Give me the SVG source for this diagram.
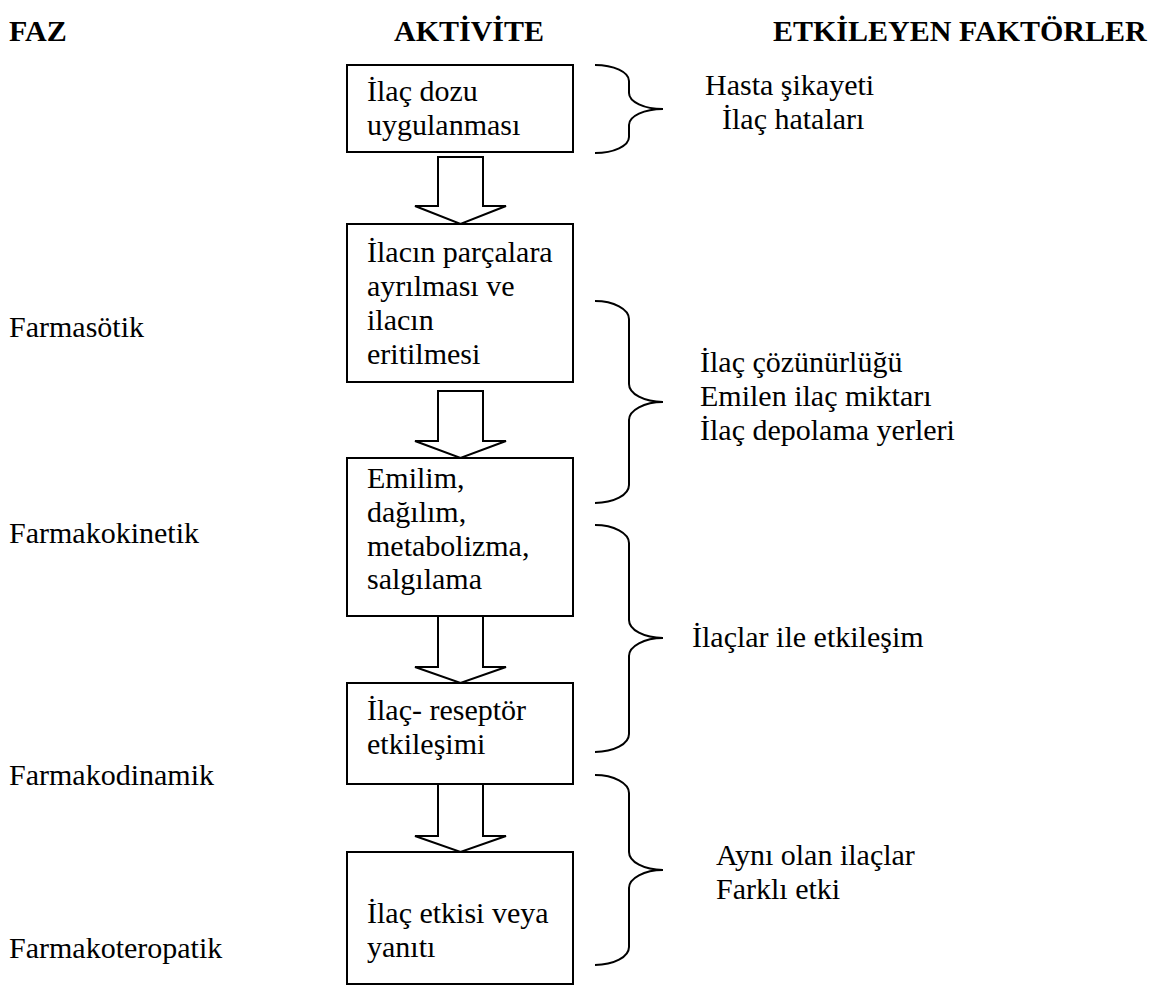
<svg xmlns="http://www.w3.org/2000/svg" width="1159" height="986" viewBox="0 0 1159 986">
<style>
text{font-family:"Liberation Serif","Times New Roman",serif;font-size:30px;fill:#000}
.h{font-weight:bold}
.box{fill:#fff;stroke:#000;stroke-width:2}
.arr{fill:#fff;stroke:#000;stroke-width:2;stroke-linejoin:miter}
.br{fill:none;stroke:#000;stroke-width:2}
</style>
<rect width="1159" height="986" fill="#fff"/>
<g id="headers">
<text class="h" x="9" y="41">FAZ</text>
<text class="h" x="394" y="41">AKTİVİTE</text>
<text class="h" x="773" y="41">ETKİLEYEN FAKTÖRLER</text>
</g>
<g id="phases">
<text x="9" y="337">Farmasötik</text>
<text x="9" y="543">Farmakokinetik</text>
<text x="9" y="785">Farmakodinamik</text>
<text x="9" y="958">Farmakoteropatik</text>
</g>
<g id="connectors">
<polygon class="arr" points="438,157 483,157 483,206 506,206 460.5,224 415,206 438,206"/>
<polygon class="arr" points="438,391 483,391 483,441 506,441 460.5,458 415,441 438,441"/>
<polygon class="arr" points="438,616 483,616 483,667 506,667 460.5,683 415,667 438,667"/>
<polygon class="arr" points="438,784 483,784 483,836 506,836 460.5,852 415,836 438,836"/>
</g>
<g id="node1">
<rect class="box" x="347" y="65" width="226" height="87"/>
<text x="367" y="101">İlaç dozu</text>
<text x="367" y="135">uygulanması</text>
</g>
<g id="node2">
<rect class="box" x="347" y="224" width="226" height="158"/>
<text x="367" y="262">İlacın parçalara</text>
<text x="367" y="296">ayrılması ve</text>
<text x="367" y="330">ilacın</text>
<text x="367" y="364">eritilmesi</text>
</g>
<g id="node3">
<rect class="box" x="347" y="458" width="226" height="158"/>
<text x="367" y="488">Emilim,</text>
<text x="367" y="522">dağılım,</text>
<text x="367" y="556">metabolizma,</text>
<text x="367" y="589">salgılama</text>
</g>
<g id="node4">
<rect class="box" x="347" y="683" width="226" height="101"/>
<text x="367" y="720">İlaç- reseptör</text>
<text x="367" y="754">etkileşimi</text>
</g>
<g id="node5">
<rect class="box" x="347" y="852" width="226" height="132"/>
<text x="367" y="923">İlaç etkisi veya</text>
<text x="367" y="957">yanıtı</text>
</g>
<g id="brace1">
<path class="br" d="M595,65 A34,16 0 0 1 629,81 L629,93 A34,16 0 0 0 663,109 A34,16 0 0 0 629,125 L629,137 A34,16 0 0 1 595,153"/>
<text x="705" y="95">Hasta şikayeti</text>
<text x="722" y="129">İlaç hataları</text>
</g>
<g id="brace2">
<path class="br" d="M595,301 A34,18 0 0 1 629,319 L629,384 A34,18 0 0 0 663,402 A34,18 0 0 0 629,420 L629,485 A34,18 0 0 1 595,503"/>
<text x="700" y="372">İlaç çözünürlüğü</text>
<text x="700" y="406">Emilen ilaç miktarı</text>
<text x="700" y="440">İlaç depolama yerleri</text>
</g>
<g id="brace3">
<path class="br" d="M595,525 A34,18 0 0 1 629,543 L629,620 A34,18 0 0 0 663,638 A34,18 0 0 0 629,656 L629,734 A34,18 0 0 1 595,752"/>
<text x="692" y="647">İlaçlar ile etkileşim</text>
</g>
<g id="brace4">
<path class="br" d="M595,775 A34,18 0 0 1 629,793 L629,852 A34,18 0 0 0 663,870 A34,18 0 0 0 629,888 L629,947 A34,18 0 0 1 595,965"/>
<text x="716" y="865">Aynı olan ilaçlar</text>
<text x="716" y="899">Farklı etki</text>
</g>
</svg>
